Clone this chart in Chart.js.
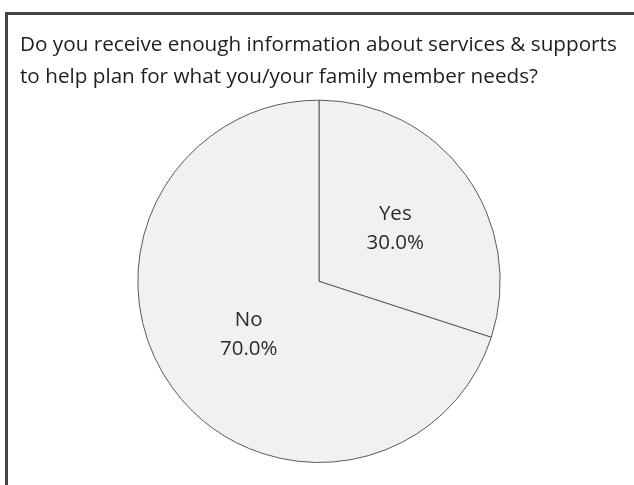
<!DOCTYPE html>
<html>
<head>
<meta charset="utf-8">
<script src="https://cdn.jsdelivr.net/npm/chart.js@4"></script>
<style>
  html, body { margin: 0; padding: 0; background: #fff; overflow: hidden; }
  #frame {
    position: absolute; left: 5px; top: 12px; width: 700px; height: 600px;
    border-top: 3px solid #454545; border-left: 3px solid #454545;
  }
  #wrap { position: absolute; left: 0; top: 0; width: 634px; height: 485px; }
</style>
</head>
<body>
<div id="frame"></div>
<div id="wrap"><canvas id="pieChart"></canvas></div>
<script>
const titleLines = [
  'Do you receive enough information about services & supports',
  'to help plan for what you/your family member needs?'
];
const categories = ['Yes', 'No'];
const values = [30.0, 70.0];

// Category name + percentage drawn inside each slice
const sliceLabels = {
  id: 'sliceLabels',
  afterDatasetsDraw(chart) {
    const ctx = chart.ctx;
    const meta = chart.getDatasetMeta(0);
    const total = values.reduce((a, b) => a + b, 0);
    ctx.save();
    ctx.font = '20.5px "Open Sans", sans-serif';
    ctx.fillStyle = '#2b2b2b';
    ctx.textAlign = 'center';
    ctx.textBaseline = 'middle';
    meta.data.forEach((arc, i) => {
      const p = arc.tooltipPosition();
      const pct = (values[i] / total * 100).toFixed(1) + '%';
      ctx.fillText(categories[i], p.x + 3, p.y - 14);
      ctx.fillText(pct, p.x + 3, p.y + 15);
    });
    ctx.restore();
  }
};

new Chart(document.getElementById('pieChart'), {
  type: 'pie',
  data: {
    labels: categories,
    datasets: [{
      data: values,
      backgroundColor: '#eff1f3',
      borderColor: '#5a5a5a',
      borderWidth: 1
    }]
  },
  options: {
    responsive: true, maintainAspectRatio: false,
    animation: false,
    layout: { padding: { left: 20, right: 16, top: 0, bottom: 22 } },
    plugins: {
      legend: { display: false },
      tooltip: { enabled: false },
      title: {
        display: true,
        text: titleLines,
        align: 'start',
        color: '#1e1e1e',
        font: { family: '"Open Sans", sans-serif', size: 20.7, weight: 'normal', lineHeight: 1.55 },
        padding: { top: 29, bottom: 6.5 }
      }
    }
  },
  plugins: [sliceLabels]
});
</script>
</body>
</html>
